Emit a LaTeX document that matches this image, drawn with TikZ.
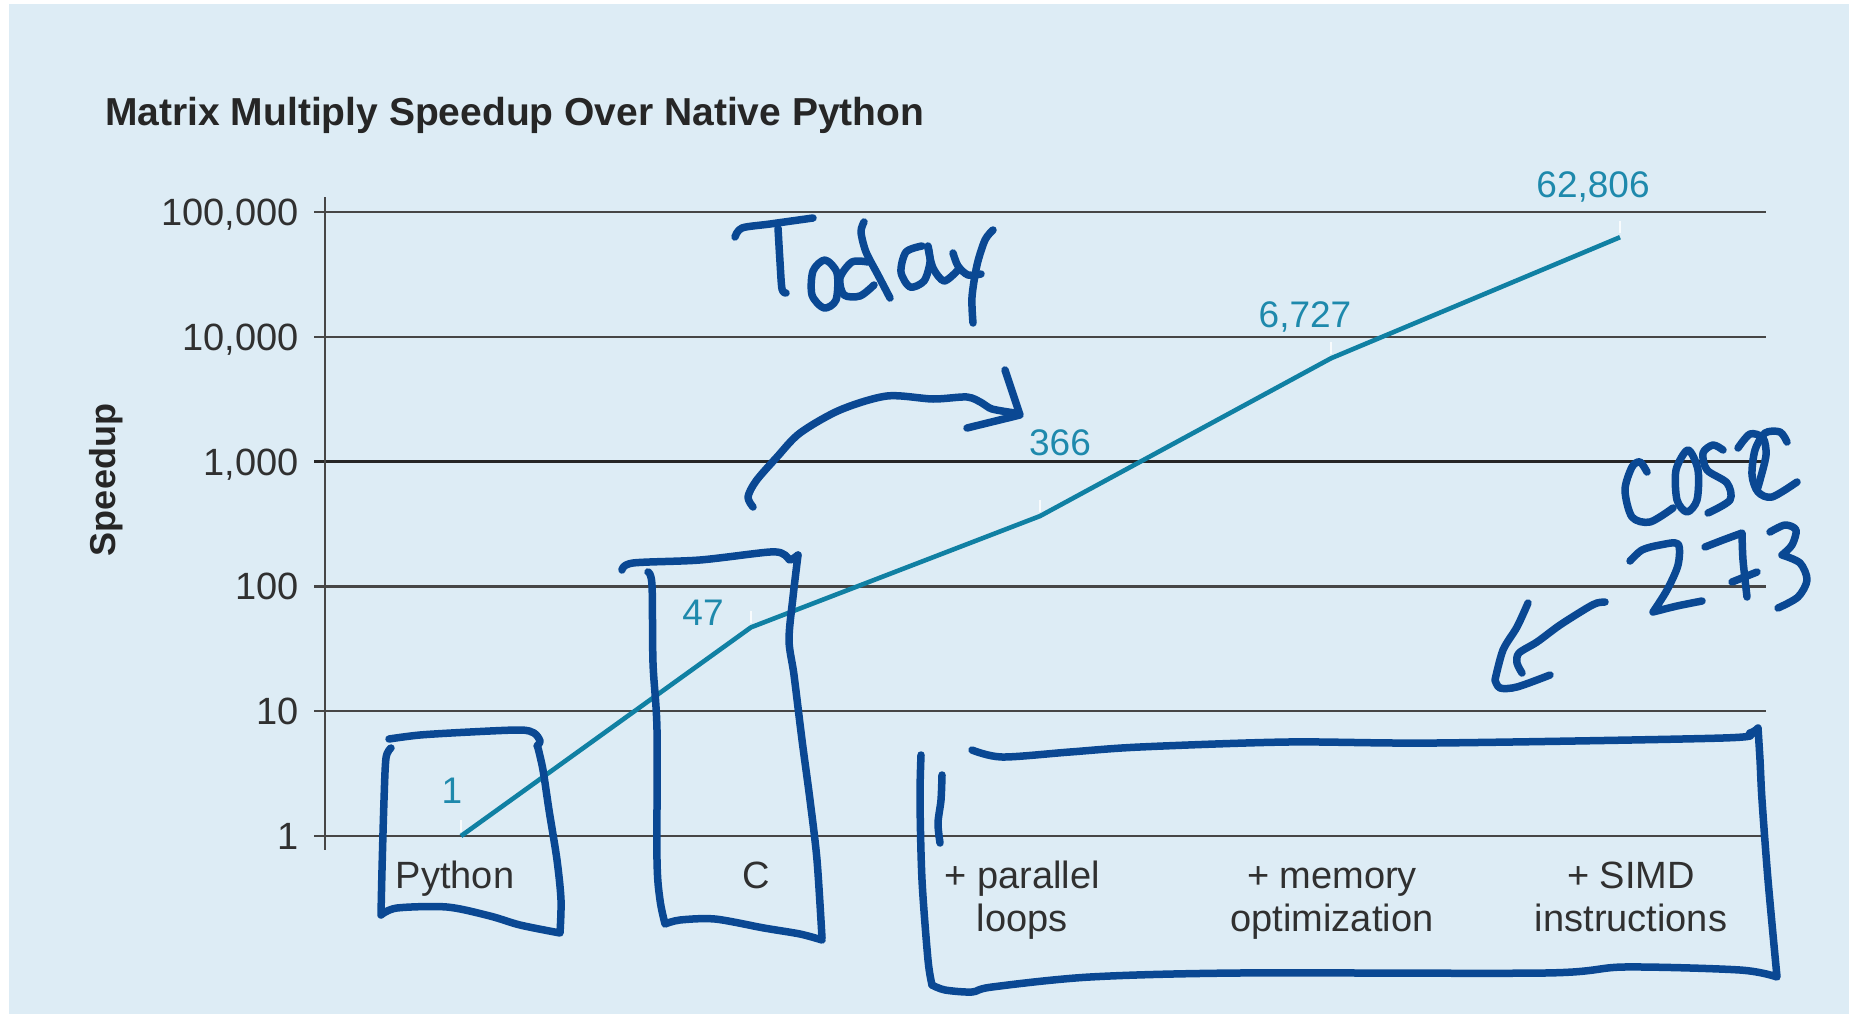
\documentclass[tikz,border=0pt]{standalone}
\usepackage{fontspec}
\setmainfont{Liberation Sans}
\usetikzlibrary{positioning}
\definecolor{panel}{RGB}{221,236,245}
\definecolor{ink}{RGB}{10,72,147}
\definecolor{tealline}{RGB}{16,128,163}
\definecolor{tealtext}{RGB}{30,137,172}
\definecolor{labgray}{RGB}{48,48,48}
\definecolor{gridgray}{RGB}{70,70,70}
\begin{document}
\begin{tikzpicture}[x=1pt, y=-1pt,
  gridline/.style={draw=gridgray, line width=2.2pt},
  ticklab/.style={text=labgray, font=\fontsize{38}{40}\selectfont, inner sep=0pt, anchor=base east},
  catlab/.style={text=labgray, font=\fontsize{38}{43}\selectfont, inner sep=0pt, anchor=north, align=center},
  vallab/.style={text=tealtext, font=\fontsize{37}{40}\selectfont, inner sep=0pt, anchor=base},
  series/.style={draw=tealline, line width=4.6pt, line join=round},
  pen/.style={draw=ink, line width=7.5pt, line cap=round, line join=round},
]
  \useasboundingbox[fill=white] (0,0) rectangle (1849,1014);
  \fill[panel] (9,4) rectangle (1849,1014);

  % title and axis label
  \node[anchor=base west, inner sep=0pt, text=black!85, font=\bfseries\fontsize{39}{40}\selectfont]
    (title) at (105,126) {Matrix Multiply Speedup Over Native Python};
  \node[rotate=90, inner sep=0pt, text=black!85, font=\bfseries\fontsize{36}{40}\selectfont]
    (ylab) at (106,480) {Speedup};

  % log grid, one line per decade
  \foreach \k in {0,...,5}
    \draw[gridline] (314,{836-124.8*\k}) -- (1766,{836-124.8*\k});
  \draw[gridline, line width=3pt, draw=black!85] (314,461.6) -- (1766,461.6);
  \draw[gridline] (325,197) -- (325,850);
  \foreach \k/\lab in {0/1, 1/10, 2/100, 3/{1,000}, 4/{10,000}, 5/{100,000}}
    \node[ticklab] (tick\k) at (299,{849.5-124.8*\k}) {\lab};

  % categories (strut keeps the first baselines level)
  \node[catlab] (catpy)  at (455,858)  {\strut Python};
  \node[catlab] (catc)   at (756,858)  {\strut C};
  \node[catlab] (catpar) at (1022,858) {\strut + parallel\\loops};
  \node[catlab] (catmem) at (1332,858) {\strut + memory\\optimization};
  \node[catlab] (catsimd) at (1631,858) {\strut + SIMD\\instructions};

  % speedup series (decades: log10 of 1, 47, 366, 6727, 62806)
  \foreach \i/\x/\d in {1/461/0, 2/751/1.6721, 3/1040/2.5635, 4/1331/3.8278, 5/1620/4.7980}
    \coordinate (p\i) at (\x,{836-124.8*\d});
  \foreach \i in {1,...,5}
    \draw[white, line width=2.5pt, opacity=.8] ([yshift=4pt]p\i) -- ([yshift=16pt]p\i);
  \draw[series] (p1) -- (p2) -- (p3) -- (p4) -- (p5);
  \node[vallab] (val1) at (452,803)  {1};
  \node[vallab] (val2) at (703,625)  {47};
  \node[vallab] (val3) at (1060,455) {366};
  \node[vallab] (val4) at (1305,327) {6,727};
  \node[vallab] (val5) at (1593,197) {62,806};

  % pen notes: "Today"
  \draw[pen] plot[smooth] coordinates {(735,237) (742,228) (770,224) (813,218)};
  \draw[pen] plot[smooth] coordinates {(778,228) (780,262) (782,289) (786,293)};
  \draw[pen] plot[smooth cycle] coordinates {(825,260) (837,273) (836,300) (824,308) (812,295) (813,271)};
  \draw[pen] plot[smooth] coordinates {(868,262) (852,262) (840,278) (844,295) (860,296) (874,285)};
  \draw[pen] plot[smooth] coordinates {(864,222) (861,232) (866,252) (878,275) (890,298)};
  \draw[pen] plot[smooth] coordinates {(922,246) (906,252) (901,272) (910,287) (924,281) (930,262) (928,246)};
  \draw[pen] plot[smooth] coordinates {(928,248) (933,268) (944,281) (957,271)};
  \draw[pen] plot[smooth] coordinates {(953,253) (958,266) (968,275) (981,274)};
  \draw[pen] plot[smooth] coordinates {(993,230) (985,240) (977,265) (972,297) (973,323)};

  % arrow towards 366
  \draw[pen] plot[smooth] coordinates {(753,507) (748,497) (756,481) (777,457) (800,433) (840,410)
    (887,396) (933,399) (967,397) (982,403) (992,409) (1015,413)};
  \draw[pen] (1005,370) -- (1020,415) -- (967,428);

  % box round Python
  \draw[pen] plot[smooth] coordinates {(389,739) (420,735) (470,732) (520,730) (534,733) (540,741) (537,746)};
  \draw[pen] plot[smooth] coordinates {(391,748) (386,758) (384,800) (382,870) (381,915)}
    -- plot[smooth] coordinates {(381,915) (397,908) (447,907) (490,916) (520,925) (560,933)}
    -- plot[smooth] coordinates {(560,933) (561,900) (557,860) (549,810) (543,770) (538,748)};

  % box round C
  \draw[pen] plot[smooth] coordinates {(622,570) (633,563) (700,560) (770,552) (785,555) (790,560) (798,555)};
  \draw[pen] plot[smooth] coordinates {(798,555) (793,597) (789,640) (794,675) (802,740) (810,800) (817,860) (822,938)};
  \draw[pen] plot[smooth] coordinates {(648,572) (652,585) (653,663) (657,730) (657,860) (660,900) (665,924)}
    -- plot[smooth] coordinates {(665,924) (680,920) (715,919) (764,928) (800,934) (822,940)};

  % box round the three optimisations
  \draw[pen] plot[smooth] coordinates {(972,750) (1002,757) (1070,752) (1140,747) (1288,742) (1436,743) (1723,738) (1750,733) (1758,728)}
    -- plot[smooth] coordinates {(1758,728) (1760,760) (1762,800) (1768,880) (1777,977)}
    -- plot[smooth] coordinates {(1777,977) (1740,970) (1624,967) (1545,973) (1239,973) (1090,977) (992,987) (972,992) (945,990) (932,985)};
  \draw[pen] plot[smooth] coordinates {(921,755) (920,800) (922,880) (928,960) (932,985)};
  \draw[pen] plot[smooth] coordinates {(942,775) (941,800) (938,823) (940,843)};

  % "COSC 273"
  \draw[pen] plot[smooth] coordinates {(1647,472) (1640,462) (1632,467) (1625,490) (1632,517) (1650,522) (1673,508)};
  \draw[pen] plot[smooth cycle] coordinates {(1688,450) (1698,470) (1697,500) (1687,512) (1677,500) (1676,470)};
  \draw[pen] plot[smooth] coordinates {(1723,450) (1713,445) (1703,453) (1707,470) (1727,483) (1730,500) (1708,513)};
  \draw[pen] plot[smooth] coordinates {(1738,448) (1750,434) (1763,438) (1766,455) (1760,480) (1757,490)};
  \draw[pen] plot[smooth] coordinates {(1787,442) (1780,432) (1765,433) (1755,450) (1752,475) (1758,492) (1772,497) (1797,482)};
  \draw[pen] plot[smooth] coordinates {(1630,561) (1642,550) (1660,545) (1678,544) (1678,565) (1667,590) (1653,612)}
    -- plot[smooth] coordinates {(1653,612) (1677,606) (1702,601)};
  \draw[pen] plot[smooth] coordinates {(1705,547) (1723,540) (1742,533)}
    -- plot[smooth] coordinates {(1742,533) (1743,560) (1747,597)};
  \draw[pen] (1732,582) -- (1757,572);
  \draw[pen] plot[smooth] coordinates {(1770,532) (1785,525) (1796,530) (1792,545) (1782,555)}
    -- plot[smooth] coordinates {(1782,555) (1800,563) (1807,580) (1798,597) (1778,608)};

  % arrow pointing back at the optimisations
  \draw[pen] plot[smooth] coordinates {(1605,602) (1597,603) (1587,608) (1560,625) (1537,642) (1519,653) (1517,663) (1522,673)};
  \draw[pen] plot[smooth] coordinates {(1528,603) (1517,627) (1503,650) (1495,680)}
    -- plot[smooth] coordinates {(1495,680) (1500,688) (1517,687) (1550,675)};
\end{tikzpicture}
\end{document}
